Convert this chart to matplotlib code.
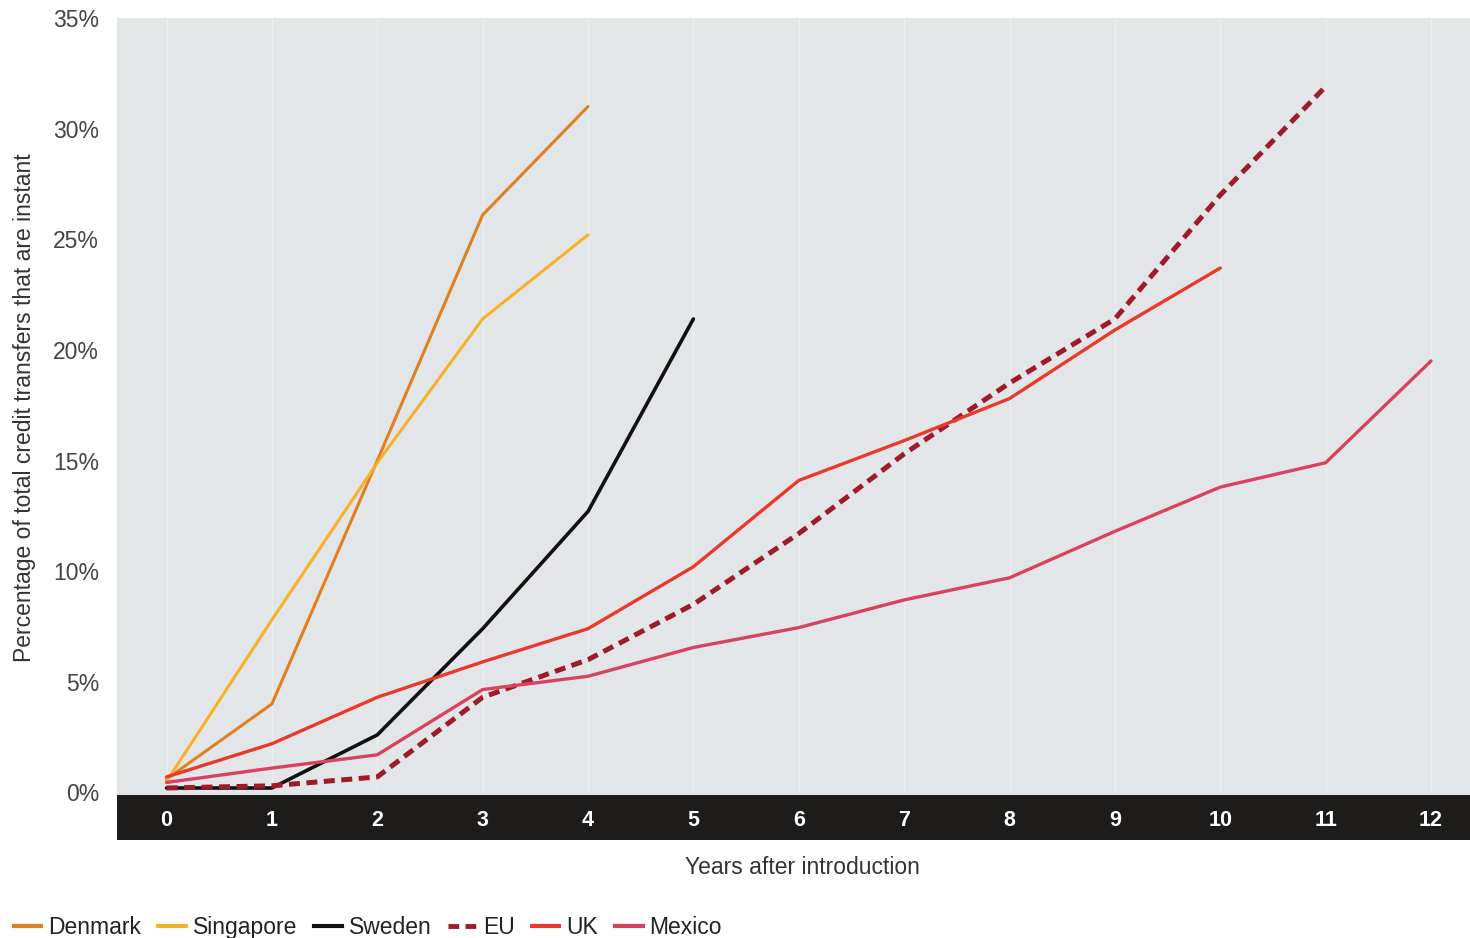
import matplotlib
matplotlib.use("Agg")
import matplotlib.pyplot as plt
from matplotlib.lines import Line2D

plt.rcParams['font.family'] = ['Liberation Sans', 'DejaVu Sans']

years = list(range(13))
denmark = [0.6, 4.0, 15.0, 26.1, 31.0]
singapore = [0.5, 7.8, 14.9, 21.4, 25.2]
sweden = [0.2, 0.2, 2.6, 7.4, 12.7, 21.4]
eu = [0.2, 0.3, 0.7, 4.3, 6.0, 8.5, 11.7, 15.3, 18.5, 21.4, 27.0, 31.9]
uk = [0.7, 2.2, 4.3, 5.9, 7.4, 10.2, 14.1, 15.9, 17.8, 20.9, 23.7]
mexico = [0.45, 1.1, 1.7, 4.65, 5.25, 6.55, 7.45, 8.7, 9.7, 11.8, 13.8, 14.9, 19.5]
y_ticks = [0, 5, 10, 15, 20, 25, 30, 35]

series = [
    ("Denmark", denmark, "#e0801f", "-", 2.2),
    ("Singapore", singapore, "#f5b226", "-", 2.2),
    ("Sweden", sweden, "#111111", "-", 2.6),
    ("EU", eu, "#9e1b2a", (0, (2.2, 1.3)), 3.6),
    ("UK", uk, "#e8392a", "-", 2.4),
    ("Mexico", mexico, "#d8425f", "-", 2.4),
]

fig = plt.figure(figsize=(14.7, 9.38), dpi=100)
ax = fig.add_axes([117/1470, (938-840)/938, 1 - 117/1470, (840-18)/938])
ax.set_facecolor("#e3e6e9")
ax.set_xlim(-0.47, 12.37)
ax.set_ylim(-2.15, 35.0)

# faint vertical guides at each year
ax.vlines(years, 0, 35, color='white', lw=1.0, alpha=0.35, zorder=1)

for name, vals, color, ls, lw in series:
    ax.plot(years[:len(vals)], vals, color=color, ls=ls, lw=lw, zorder=3,
            solid_capstyle='round', dash_capstyle='butt', solid_joinstyle='round')

ax.axhspan(-2.15, -0.1, color="#1e1b1b", zorder=2, lw=0)
ax.xaxis.set_zorder(5)

for s in ax.spines.values():
    s.set_visible(False)

ax.set_xticks(years)
ax.set_xticklabels([str(y) for y in years])
ax.tick_params(axis='x', length=0, pad=-21.5, labelcolor='white', labelsize=15.5)
for t in ax.get_xticklabels():
    t.set_fontweight('bold')

ax.set_yticks(y_ticks)
ax.set_yticklabels([f"{v}%" for v in y_ticks])
ax.tick_params(axis='y', length=0, pad=13, labelcolor='#444444', labelsize=16.5)

fig.text(802/1470, 1 - 867/938, "Years after introduction", ha='center', va='center',
         fontsize=16.5, color='#333333')
fig.text(25/1470, 1 - 408/938, "Percentage of total credit transfers that are instant",
         ha='center', va='center', rotation=90, fontsize=16.5, color='#333333')

handles = [Line2D([0], [0], color=c, ls=ls, lw=3.5 if name == "EU" else 3.0)
           for name, vals, c, ls, lw in series]
labels = [s[0] for s in series]
fig.legend(handles, labels, loc='lower left', bbox_to_anchor=(0.0, -0.016), ncol=6,
           frameon=False, fontsize=16.5, handlelength=1.2, handletextpad=0.3,
           columnspacing=0.75, labelcolor='#222222', borderaxespad=0.2)

fig.savefig("out.png", dpi=100)
